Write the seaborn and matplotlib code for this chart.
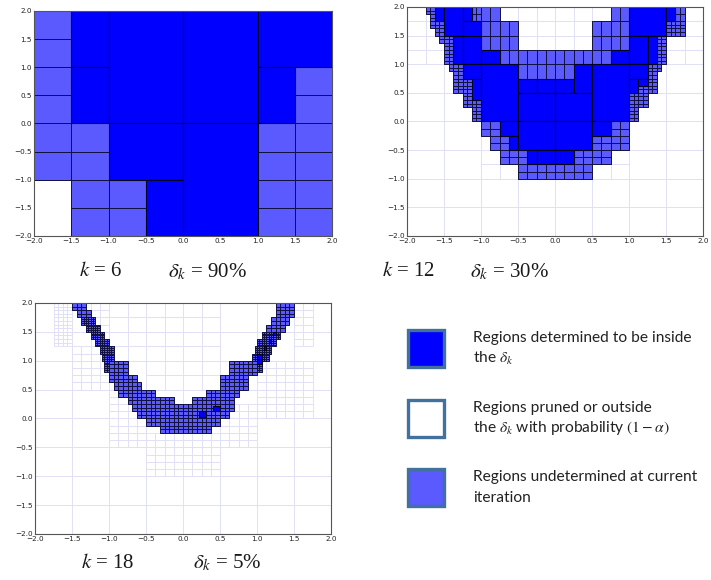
import matplotlib
matplotlib.use('Agg')
import matplotlib.pyplot as plt
import seaborn as sns
from matplotlib.patches import Rectangle
from matplotlib.collections import PatchCollection

sns.set_theme(style='white')
plt.rcParams['font.family'] = ['DejaVu Sans']
plt.rcParams['mathtext.fontset'] = 'stix'

DARK = '#0000ff'
LIGHT = '#5a5aff'
PRUNE_EDGE = '#dedef6'

ticks = [-2.0, -1.5, -1.0, -0.5, 0.0, 0.5, 1.0, 1.5, 2.0]
tick_labels = ['\u22122.0', '\u22121.5', '\u22121.0', '\u22120.5', '0.0', '0.5', '1.0', '1.5', '2.0']

# ---- panel 1 (k = 6): blocks (x0, y0, x1, y1, dx, dy) ----
p1_inside = [(-1.5, 1.0, -1.0, 2.0, 0.5, 1.0), (-1.5, 0.0, -1.0, 1.0, 0.5, 1.0),
             (-1.0, 0.0, 0.0, 2.0, 1.0, 2.0), (-1.0, -1.0, 0.0, 0.0, 1.0, 1.0),
             (-0.5, -2.0, 0.0, -1.0, 0.5, 1.0), (0.0, 0.0, 1.0, 2.0, 1.0, 2.0),
             (0.0, -2.0, 1.0, 0.0, 1.0, 2.0), (1.0, 1.0, 2.0, 2.0, 1.0, 1.0),
             (1.0, 0.0, 1.5, 1.0, 0.5, 1.0)]
p1_undet = [(-2.0, -1.0, -1.5, 2.0, 0.5, 0.5), (-1.5, -2.0, -1.0, 0.0, 0.5, 0.5),
            (-1.0, -2.0, -0.5, -1.0, 0.5, 0.5), (1.5, 0.0, 2.0, 1.0, 0.5, 0.5),
            (1.0, -2.0, 2.0, 0.0, 0.5, 0.5)]
p1_pruned = [(-2.0, -2.0, -1.5, -1.0, 0.5, 1.0)]

# ---- panel 2 (k = 12) ----
p2_inside = [(-1.625, 1.75, -1.5, 2.0, 0.125, 0.25), (-1.5, 1.5, -1.25, 2.0, 0.25, 0.5),
             (-1.25, 1.75, -1.125, 2.0, 0.125, 0.25), (-1.25, 1.5, -1.0, 1.75, 0.25, 0.25),
             (-1.375, 1.0, -1.25, 1.5, 0.125, 0.5), (-1.25, 1.0, -1.0, 1.5, 0.25, 0.5),
             (-1.0, 1.0, -0.75, 1.25, 0.25, 0.25), (-1.25, 0.75, -1.0, 1.0, 0.25, 0.25),
             (-1.125, 0.375, -1.0, 0.75, 0.125, 0.375), (-1.0, 0.0, -0.5, 1.0, 0.5, 1.0),
             (-0.5, 0.5, -0.25, 0.75, 0.25, 0.25), (-0.25, 0.5, 0.0, 0.75, 0.25, 0.25),
             (0.0, 0.5, 0.25, 0.75, 0.25, 0.25), (0.25, 0.5, 0.5, 1.0, 0.25, 0.5),
             (-0.5, 0.0, 0.0, 0.5, 0.5, 0.5), (0.0, 0.0, 0.5, 0.5, 0.5, 0.5),
             (0.5, 0.0, 1.0, 1.0, 0.5, 1.0), (0.75, 1.0, 1.0, 1.25, 0.25, 0.25),
             (1.0, 1.5, 1.5, 2.0, 0.5, 0.5), (1.5, 1.75, 1.625, 2.0, 0.125, 0.25),
             (1.0, 1.0, 1.25, 1.5, 0.25, 0.5), (1.25, 1.0, 1.375, 1.5, 0.125, 0.5),
             (1.0, 0.75, 1.25, 1.0, 0.25, 0.25), (1.0, 0.5, 1.125, 0.75, 0.125, 0.25),
             (1.125, 0.625, 1.25, 0.75, 0.125, 0.125),
             (-0.75, -0.25, -0.5, 0.0, 0.25, 0.25), (-0.625, -0.5, -0.5, -0.25, 0.125, 0.25),
             (-0.5, -0.5, 0.0, 0.0, 0.5, 0.5), (0.0, -0.5, 0.5, 0.0, 0.5, 0.5),
             (0.5, -0.25, 0.75, 0.0, 0.25, 0.25), (-0.375, -0.75, -0.25, -0.5, 0.125, 0.25),
             (-0.25, -0.75, 0.0, -0.5, 0.25, 0.25), (0.0, -0.75, 0.25, -0.5, 0.25, 0.25)]
p2_undet = [(-1.75, 1.875, -1.625, 2.0, 0.0625, 0.0625), (-1.6875, 1.625, -1.625, 1.875, 0.0625, 0.0625),
            (-1.625, 1.5, -1.5, 1.75, 0.0625, 0.0625), (-1.5625, 1.375, -1.5, 1.5, 0.0625, 0.0625),
            (-1.5, 1.0, -1.375, 1.5, 0.0625, 0.0625), (-1.4375, 0.875, -1.375, 1.0, 0.0625, 0.0625),
            (-1.125, 1.75, -1.0, 2.0, 0.0625, 0.125), (-1.375, 0.5, -1.25, 1.0, 0.0625, 0.0625),
            (-1.25, 0.5, -1.125, 0.75, 0.0625, 0.0625), (-1.25, 0.25, -1.125, 0.5, 0.0625, 0.0625),
            (-1.125, 0.25, -1.0, 0.375, 0.0625, 0.0625), (-1.125, 0.0, -1.0, 0.25, 0.0625, 0.0625),
            (-1.0, 1.75, -0.75, 2.0, 0.125, 0.25), (-1.0, 1.25, -0.5, 1.75, 0.125, 0.25),
            (-0.75, 1.0, 0.75, 1.25, 0.125, 0.25), (-0.5, 0.75, 0.25, 1.0, 0.125, 0.25),
            (0.5, 1.25, 1.0, 1.75, 0.125, 0.25), (0.75, 1.75, 1.0, 2.0, 0.125, 0.25),
            (1.625, 1.75, 1.75, 2.0, 0.0625, 0.125), (1.5, 1.5, 1.75, 1.75, 0.0625, 0.0625),
            (1.375, 1.0, 1.5, 1.5, 0.0625, 0.0625), (1.25, 0.875, 1.4375, 1.0, 0.0625, 0.0625),
            (1.25, 0.75, 1.375, 0.875, 0.0625, 0.0625), (1.125, 0.5, 1.375, 0.625, 0.0625, 0.0625),
            (1.25, 0.625, 1.375, 0.75, 0.0625, 0.0625),
            (1.125, 0.25, 1.25, 0.5, 0.0625, 0.0625), (1.0, 0.0, 1.125, 0.5, 0.0625, 0.0625),
            (-1.0, -0.25, -0.75, 0.0, 0.125, 0.125), (-0.875, -0.5, -0.625, -0.25, 0.125, 0.125),
            (-0.75, -0.75, -0.375, -0.5, 0.125, 0.125), (-0.5, -1.0, 0.5, -0.75, 0.125, 0.125),
            (0.25, -0.75, 0.75, -0.5, 0.125, 0.125), (0.5, -0.5, 1.0, -0.25, 0.125, 0.125),
            (0.75, -0.25, 1.0, 0.0, 0.125, 0.125)]
p2_pruned = [(-2.0, -2.0, 2.0, -1.0, 0.5, 0.5), (-2.0, -1.0, -1.0, 1.0, 0.5, 0.5),
             (1.0, -1.0, 2.0, 1.0, 0.5, 0.5), (-2.0, 1.0, -1.5, 2.0, 0.25, 0.25),
             (1.5, 1.0, 2.0, 2.0, 0.25, 0.25), (-0.75, 1.25, 0.75, 2.0, 0.25, 0.25),
             (-1.0, -1.0, 1.0, -0.5, 0.25, 0.25)]

# ---- panel 3 (k = 18) ----
p3_inside = [(0.21875, 0.03125, 0.3125, 0.125, 0.046875, 0.09375),
             (0.40625, 0.125, 0.5, 0.21875, 0.09375, 0.09375),
             (1.0, 0.9375, 1.0625, 1.125, 0.0625, 0.09375),
             (1.09375, 1.1875, 1.125, 1.25, 0.03125, 0.0625),
             (1.15625, 1.3125, 1.1875, 1.375, 0.03125, 0.0625),
             (1.21875, 1.4375, 1.25, 1.5, 0.03125, 0.0625)]
p3_undet = [(-1.5, 1.875, -1.3125, 2.0, 0.0625, 0.0625), (-1.4375, 1.75, -1.25, 1.875, 0.0625, 0.0625),
            (-1.375, 1.625, -1.1875, 1.75, 0.03125, 0.03125), (-1.3125, 1.5, -1.125, 1.625, 0.03125, 0.03125),
            (-1.25, 1.375, -1.0625, 1.5, 0.03125, 0.03125), (-1.1875, 1.25, -1.0, 1.375, 0.03125, 0.03125),
            (-1.125, 1.125, -0.9375, 1.25, 0.03125, 0.03125), (-1.09375, 1.0, -0.9375, 1.125, 0.03125, 0.03125),
            (-1.0625, 0.8125, -1.0, 1.0, 0.03125, 0.03125), (-1.0, 0.75, -0.75, 1.0, 0.0625, 0.0625),
            (-1.0, 0.625, -0.625, 0.75, 0.0625, 0.0625), (-0.9375, 0.5, -0.5625, 0.625, 0.0625, 0.0625),
            (-0.875, 0.375, -0.375, 0.5, 0.0625, 0.0625), (-0.75, 0.25, -0.125, 0.375, 0.0625, 0.0625),
            (-0.6875, 0.125, 0.6875, 0.25, 0.0625, 0.0625), (-0.625, 0.0, 0.625, 0.125, 0.0625, 0.0625),
            (-0.5, -0.125, 0.5, 0.0, 0.0625, 0.0625), (-0.3125, -0.25, 0.375, -0.125, 0.0625, 0.0625),
            (0.125, 0.25, 0.6875, 0.375, 0.0625, 0.0625), (0.3125, 0.375, 0.75, 0.5, 0.0625, 0.0625),
            (0.5, 0.5, 0.875, 0.75, 0.0625, 0.0625), (0.625, 0.75, 1.0, 1.0, 0.0625, 0.0625),
            (1.0, 0.8125, 1.0625, 1.0, 0.03125, 0.03125), (0.9375, 1.0, 1.15625, 1.125, 0.03125, 0.03125),
            (0.96875, 1.125, 1.1875, 1.25, 0.03125, 0.03125), (1.0, 1.25, 1.25, 1.375, 0.03125, 0.03125),
            (1.0625, 1.375, 1.3125, 1.5, 0.03125, 0.03125), (1.125, 1.5, 1.375, 1.625, 0.0625, 0.0625),
            (1.1875, 1.625, 1.4375, 1.75, 0.0625, 0.0625), (1.25, 1.75, 1.5, 2.0, 0.0625, 0.0625)]
p3_pruned = [(-2.0, -2.0, 2.0, 2.0, 0.5, 0.5), (-1.75, 1.25, -1.5, 2.0, 0.0625, 0.0625),
             (-1.5, 0.5, -1.0, 1.25, 0.125, 0.125), (-1.0, -0.5, -0.5, 0.5, 0.125, 0.125),
             (-0.5, -1.0, 0.5, -0.25, 0.125, 0.125), (0.5, -0.5, 1.0, 0.25, 0.125, 0.125),
             (1.0, 0.0, 1.75, 1.0, 0.125, 0.125), (-0.5, 0.5, 0.5, 2.0, 0.25, 0.25),
             (1.5, 1.25, 1.75, 2.0, 0.125, 0.125), (-1.0, 1.0, -0.5, 2.0, 0.25, 0.25),
             (-1.25, 1.25, -1.0, 2.0, 0.125, 0.125)]

captions = [('$k$ = 6', '$\\delta_k$ = 90%'),
            ('$k$ = 12', '$\\delta_k$ = 30%'),
            ('$k$ = 18', '$\\delta_k$ = 5%')]

legend_fills = [DARK, 'white', LIGHT]
legend_texts = [['Regions determined to be inside', 'the $\\delta_k$'],
                ['Regions pruned or outside', 'the $\\delta_k$ with probability $(1-\\alpha)$'],
                ['Regions undetermined at current', 'iteration']]


def cells(blocks):
    out = []
    for x0, y0, x1, y1, dx, dy in blocks:
        nx = max(1, int(round((x1 - x0) / dx)))
        ny = max(1, int(round((y1 - y0) / dy)))
        w = (x1 - x0) / nx
        h = (y1 - y0) / ny
        for i in range(nx):
            for j in range(ny):
                out.append(Rectangle((x0 + i * w, y0 + j * h), w, h))
    return out


def draw_panel(ax, inside, undet, pruned):
    ax.set_xlim(-2, 2)
    ax.set_ylim(-2, 2)
    ax.add_collection(PatchCollection(cells(pruned), facecolor='white',
                                      edgecolor=PRUNE_EDGE, linewidth=0.6, zorder=1))
    ax.add_collection(PatchCollection(cells(undet), facecolor=LIGHT,
                                      edgecolor='#101040', linewidth=0.7, zorder=2))
    ax.add_collection(PatchCollection(cells(inside), facecolor=DARK,
                                      edgecolor='#000020', linewidth=0.8, zorder=3))
    ax.set_xticks(ticks)
    ax.set_yticks(ticks)
    ax.set_xticklabels(tick_labels)
    ax.set_yticklabels(tick_labels)
    ax.tick_params(direction='in', length=3, width=0.5, labelsize=5.2, pad=1.5,
                   top=True, right=True, bottom=True, left=True, colors='#333333',
                   labelcolor='#222222')
    for s in ax.spines.values():
        s.set_color('#555555')
        s.set_linewidth(0.8)
        s.set_zorder(5)


W, H = 711, 580
fig = plt.figure(figsize=(W / 100, H / 100), dpi=100)


def px_axes(l, t, r, b):
    return fig.add_axes([l / W, 1 - b / H, (r - l) / W, (b - t) / H])


ax1 = px_axes(34, 11, 332, 236)
ax2 = px_axes(407, 7, 703, 236)
ax3 = px_axes(35, 303, 331, 534)
draw_panel(ax1, p1_inside, p1_undet, p1_pruned)
draw_panel(ax2, p2_inside, p2_undet, p2_pruned)
draw_panel(ax3, p3_inside, p3_undet, p3_pruned)

cap_pos = [((101, 272), (207, 272)), ((409, 272), (509, 272)), ((108, 563), (227, 563))]
for (c1, c2), ((x1, y1), (x2, y2)) in zip(captions, cap_pos):
    fig.text(x1 / W, 1 - y1 / H, c1, ha='center', va='center', fontsize=15, color='#1a1a1a',
             family=['Liberation Serif', 'DejaVu Serif'])
    fig.text(x2 / W, 1 - y2 / H, c2, ha='center', va='center', fontsize=15, color='#1a1a1a',
             family=['Liberation Serif', 'DejaVu Serif'])

box_tops = [330, 400, 469]
text_y = [(338, 358), (408, 428), (477, 498)]
for fill, top, (ya, yb), lines in zip(legend_fills, box_tops, text_y, legend_texts):
    r = Rectangle((408 / W, 1 - (top + 37) / H), 36 / W, 37 / H, transform=fig.transFigure,
                  facecolor=fill, edgecolor='#41719c', linewidth=2.4)
    fig.patches.append(r)
    fig.text(473 / W, 1 - ya / H, lines[0], ha='left', va='center', fontsize=11.2,
             family=['Lato', 'DejaVu Sans'], color='#222222')
    fig.text(473 / W, 1 - yb / H, lines[1], ha='left', va='center', fontsize=11.2,
             family=['Lato', 'DejaVu Sans'], color='#222222')

fig.savefig('out.png', dpi=100)
